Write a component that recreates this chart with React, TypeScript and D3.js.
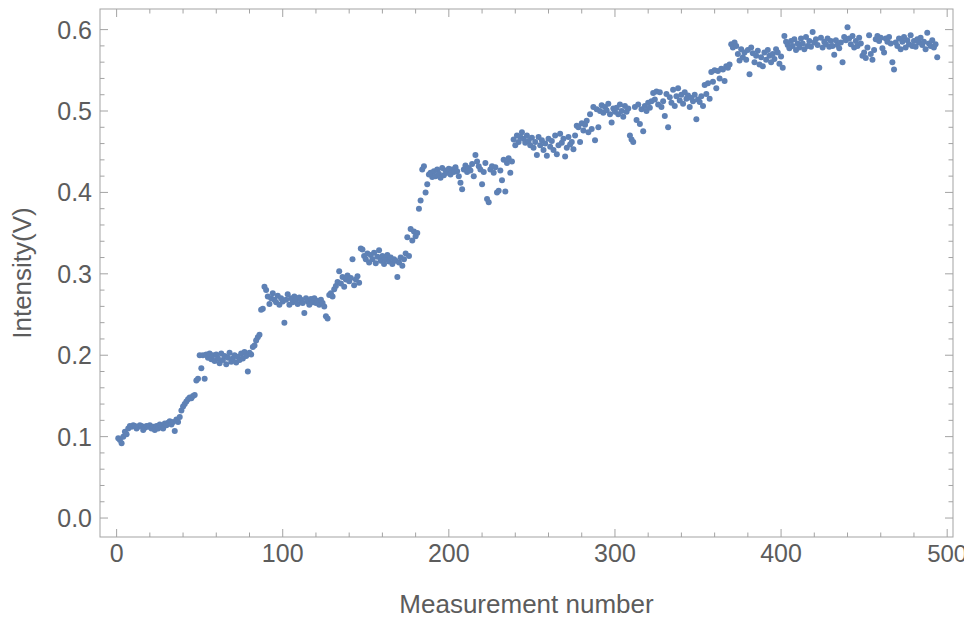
import React from "react";
import * as d3 from "d3";

// Measured intensity (V) for measurements 1–494, in blocks of 100
const intensity001to100 = [
  0.098, 0.096, 0.092, 0.100, 0.106, 0.103, 0.110, 0.113, 0.112, 0.114,
  0.113, 0.110, 0.112, 0.114, 0.113, 0.108, 0.111, 0.113, 0.112, 0.114,
  0.110, 0.112, 0.108, 0.113, 0.110, 0.115, 0.112, 0.110, 0.116, 0.114,
  0.117, 0.119, 0.115, 0.118, 0.107, 0.121, 0.118, 0.124, 0.132, 0.137,
  0.140, 0.143, 0.146, 0.148, 0.147, 0.150, 0.151, 0.169, 0.171, 0.200,
  0.184, 0.200, 0.171, 0.201, 0.197, 0.202, 0.195, 0.200, 0.193, 0.201,
  0.196, 0.190, 0.202, 0.194, 0.199, 0.189, 0.197, 0.203, 0.192, 0.196,
  0.200, 0.191, 0.198, 0.194, 0.202, 0.196, 0.204, 0.199, 0.180, 0.203,
  0.201, 0.210, 0.212, 0.218, 0.222, 0.225, 0.256, 0.257, 0.284, 0.280,
  0.272, 0.263, 0.270, 0.276, 0.268, 0.265, 0.273, 0.262, 0.270, 0.266,
];

const intensity101to200 = [
  0.240, 0.268, 0.275, 0.262, 0.270, 0.265, 0.272, 0.268, 0.263, 0.271,
  0.268, 0.264, 0.252, 0.270, 0.266, 0.262, 0.269, 0.265, 0.270, 0.264,
  0.267, 0.262, 0.268, 0.264, 0.260, 0.248, 0.245, 0.274, 0.276, 0.272,
  0.281, 0.285, 0.290, 0.303, 0.288, 0.296, 0.284, 0.293, 0.298, 0.291,
  0.295, 0.318, 0.286, 0.293, 0.297, 0.289, 0.331, 0.330, 0.322, 0.318,
  0.325, 0.314, 0.323, 0.318, 0.326, 0.313, 0.321, 0.329, 0.316, 0.322,
  0.312, 0.318, 0.323, 0.315, 0.320, 0.312, 0.318, 0.316, 0.296, 0.314,
  0.320, 0.310, 0.318, 0.325, 0.345, 0.322, 0.355, 0.341, 0.352, 0.346,
  0.350, 0.380, 0.390, 0.428, 0.432, 0.400, 0.410, 0.422, 0.424, 0.419,
  0.426, 0.420, 0.428, 0.423, 0.418, 0.430, 0.421, 0.427, 0.424, 0.429,
];

const intensity201to300 = [
  0.422, 0.428, 0.425, 0.431, 0.426, 0.420, 0.412, 0.404, 0.428, 0.433,
  0.425, 0.430, 0.427, 0.435, 0.420, 0.446, 0.438, 0.432, 0.428, 0.410,
  0.425, 0.436, 0.392, 0.388, 0.428, 0.432, 0.424, 0.431, 0.400, 0.402,
  0.427, 0.415, 0.440, 0.401, 0.436, 0.442, 0.424, 0.438, 0.465, 0.458,
  0.470, 0.462, 0.468, 0.474, 0.466, 0.461, 0.470, 0.463, 0.458, 0.467,
  0.455, 0.462, 0.446, 0.468, 0.458, 0.464, 0.452, 0.460, 0.445, 0.466,
  0.456, 0.463, 0.452, 0.470, 0.447, 0.458, 0.472, 0.461, 0.466, 0.444,
  0.455, 0.468, 0.459, 0.462, 0.453, 0.470, 0.482, 0.480, 0.462, 0.485,
  0.476, 0.483, 0.488, 0.474, 0.496, 0.478, 0.505, 0.464, 0.502, 0.480,
  0.500, 0.507, 0.498, 0.505, 0.501, 0.509, 0.496, 0.486, 0.503, 0.499,
];

const intensity301to400 = [
  0.504, 0.496, 0.508, 0.500, 0.493, 0.506, 0.499, 0.503, 0.470, 0.465,
  0.462, 0.505, 0.489, 0.508, 0.484, 0.502, 0.475, 0.506, 0.500, 0.510,
  0.504, 0.512, 0.522, 0.514, 0.524, 0.508, 0.523, 0.505, 0.512, 0.494,
  0.521, 0.480, 0.517, 0.510, 0.526, 0.506, 0.518, 0.528, 0.513, 0.520,
  0.509, 0.523, 0.515, 0.519, 0.505, 0.516, 0.512, 0.520, 0.490, 0.514,
  0.511, 0.518, 0.506, 0.532, 0.521, 0.534, 0.515, 0.548, 0.536, 0.550,
  0.528, 0.549, 0.540, 0.552, 0.551, 0.537, 0.555, 0.553, 0.557, 0.582,
  0.578, 0.584, 0.580, 0.570, 0.562, 0.576, 0.566, 0.572, 0.563, 0.575,
  0.545, 0.578, 0.571, 0.560, 0.568, 0.574, 0.557, 0.566, 0.555, 0.572,
  0.563, 0.575, 0.568, 0.560, 0.570, 0.564, 0.576, 0.572, 0.558, 0.567,
];

const intensity401to494 = [
  0.553, 0.592, 0.585, 0.581, 0.577, 0.586, 0.580, 0.588, 0.575, 0.583,
  0.578, 0.589, 0.583, 0.576, 0.591, 0.580, 0.586, 0.579, 0.597, 0.584,
  0.588, 0.581, 0.553, 0.590, 0.578, 0.585, 0.582, 0.589, 0.579, 0.586,
  0.580, 0.569, 0.587, 0.581, 0.577, 0.584, 0.560, 0.591, 0.587, 0.603,
  0.589, 0.582, 0.592, 0.578, 0.586, 0.580, 0.590, 0.583, 0.568, 0.572,
  0.565, 0.578, 0.593, 0.570, 0.563, 0.575, 0.588, 0.592, 0.586, 0.590,
  0.577, 0.572, 0.589, 0.585, 0.591, 0.583, 0.560, 0.551, 0.584, 0.580,
  0.589, 0.576, 0.585, 0.591, 0.578, 0.587, 0.582, 0.593, 0.580, 0.586,
  0.579, 0.588, 0.584, 0.590, 0.581, 0.585, 0.576, 0.596, 0.583, 0.580,
  0.587, 0.578, 0.582, 0.566,
];

const intensity = [
  ...intensity001to100,
  ...intensity101to200,
  ...intensity201to300,
  ...intensity301to400,
  ...intensity401to494,
];

const xMajorTicks = [0, 100, 200, 300, 400, 500];
const xTickLabels = ["0", "100", "200", "300", "400", "500"];
const yMajorTicks = [0, 0.1, 0.2, 0.3, 0.4, 0.5, 0.6];
const yTickLabels = ["0.0", "0.1", "0.2", "0.3", "0.4", "0.5", "0.6"];

const xTitle = "Measurement number";
const yTitle = "Intensity(V)";

const WIDTH = 964;
const HEIGHT = 625;
const FRAME = { left: 100, right: 953, top: 9, bottom: 537 };
const POINT_COLOR = "#5e81b5";
const FRAME_COLOR = "#a3a3a3";
const TEXT_COLOR = "#5c5c5c";
const FONT = "'Liberation Sans', Arial, Helvetica, sans-serif";

export default function App() {
  const x = d3.scaleLinear().domain([-10, 503.5]).range([FRAME.left, FRAME.right]);
  const y = d3.scaleLinear().domain([-0.0233, 0.6253]).range([FRAME.bottom, FRAME.top]);

  const xMinor = d3.range(0, 501, 20).filter((v) => v % 100 !== 0);
  const yMinor = d3
    .range(0, 61, 2)
    .filter((v) => v % 10 !== 0)
    .map((v) => v / 100);

  const majorLen = 8;
  const minorLen = 4.5;

  const points = intensity.map((v, i) => ({ n: i + 1, v }));

  return (
    <svg
      width={WIDTH}
      height={HEIGHT}
      style={{ position: "absolute", left: 0, top: 0, background: "#fff" }}
      fontFamily={FONT}
    >
      <rect x={0} y={0} width={WIDTH} height={HEIGHT} fill="#fff" />

      {/* data points */}
      <g fill={POINT_COLOR}>
        {points.map((p) => (
          <circle key={p.n} cx={x(p.n)} cy={y(p.v)} r={3} />
        ))}
      </g>

      {/* frame */}
      <rect
        x={FRAME.left}
        y={FRAME.top}
        width={FRAME.right - FRAME.left}
        height={FRAME.bottom - FRAME.top}
        fill="none"
        stroke={FRAME_COLOR}
        strokeWidth={1}
      />

      {/* ticks on all four sides, pointing inward */}
      <g stroke={FRAME_COLOR} strokeWidth={1}>
        {xMajorTicks.map((t) => (
          <g key={"xM" + t}>
            <line x1={x(t)} x2={x(t)} y1={FRAME.bottom} y2={FRAME.bottom - majorLen} />
            <line x1={x(t)} x2={x(t)} y1={FRAME.top} y2={FRAME.top + majorLen} />
          </g>
        ))}
        {xMinor.map((t) => (
          <g key={"xm" + t}>
            <line x1={x(t)} x2={x(t)} y1={FRAME.bottom} y2={FRAME.bottom - minorLen} />
            <line x1={x(t)} x2={x(t)} y1={FRAME.top} y2={FRAME.top + minorLen} />
          </g>
        ))}
        {yMajorTicks.map((t) => (
          <g key={"yM" + t}>
            <line x1={FRAME.left} x2={FRAME.left + majorLen} y1={y(t)} y2={y(t)} />
            <line x1={FRAME.right} x2={FRAME.right - majorLen} y1={y(t)} y2={y(t)} />
          </g>
        ))}
        {yMinor.map((t) => (
          <g key={"ym" + t}>
            <line x1={FRAME.left} x2={FRAME.left + minorLen} y1={y(t)} y2={y(t)} />
            <line x1={FRAME.right} x2={FRAME.right - minorLen} y1={y(t)} y2={y(t)} />
          </g>
        ))}
      </g>

      {/* tick labels */}
      <g fill={TEXT_COLOR} fontSize={25}>
        {xMajorTicks.map((t, i) => (
          <text
            key={"xl" + t}
            x={x(t)}
            y={FRAME.bottom + 25}
            textAnchor="middle"
            fontSize={i === xMajorTicks.length - 1 ? 24 : 25}
          >
            {xTickLabels[i]}
          </text>
        ))}
        {yMajorTicks.map((t, i) => (
          <text key={"yl" + t} x={FRAME.left - 8} y={y(t) + 9} textAnchor="end">
            {yTickLabels[i]}
          </text>
        ))}
      </g>

      {/* axis titles */}
      <text
        x={(FRAME.left + FRAME.right) / 2}
        y={613}
        textAnchor="middle"
        fill={TEXT_COLOR}
        fontSize={26}
      >
        {xTitle}
      </text>
      <text
        transform={`translate(31, ${(FRAME.top + FRAME.bottom) / 2}) rotate(-90)`}
        textAnchor="middle"
        fill={TEXT_COLOR}
        fontSize={26}
      >
        {yTitle}
      </text>
    </svg>
  );
}
